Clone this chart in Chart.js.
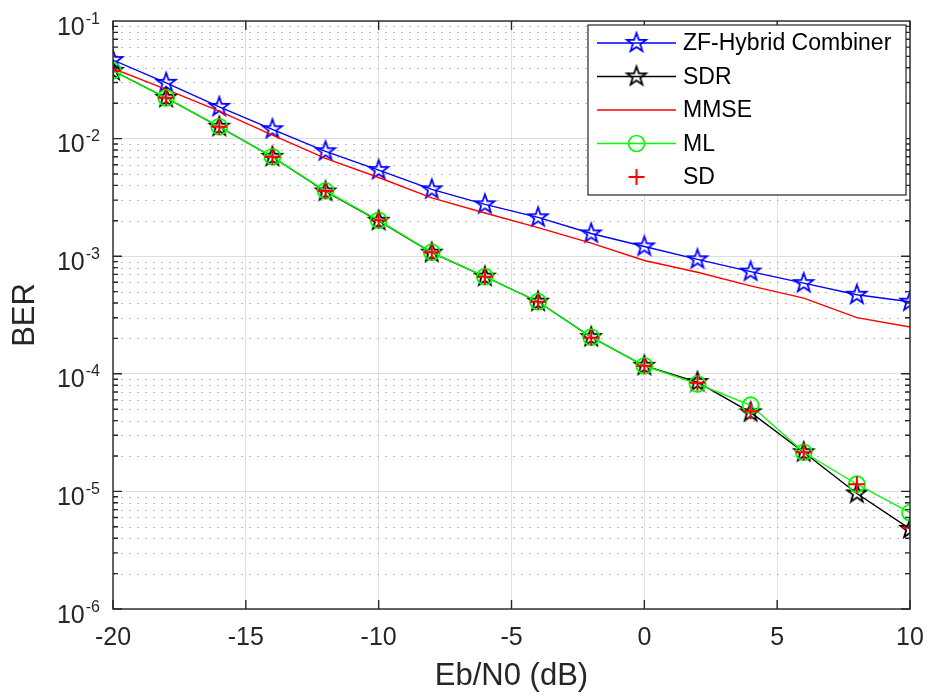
<!DOCTYPE html>
<html>
<head>
<meta charset="utf-8">
<script src="https://cdn.jsdelivr.net/npm/chart.js@4/dist/chart.umd.min.js"></script>
<style>
  html, body { margin: 0; padding: 0; background: #fff; }
  #wrap { width: 930px; height: 696px; }
</style>
</head>
<body>
<div id="wrap"><canvas id="berChart" width="930" height="696"></canvas></div>
<script>
// Eb/N0 points (dB)
const ebn0 = [-20, -18, -16, -14, -12, -10, -8, -6, -4, -2, 0, 2, 4, 6, 8, 10];

// BER curves
const zfBer   = [0.0465, 0.0298, 0.0186, 0.0120, 0.0078, 0.0054, 0.0037, 0.00276, 0.00214, 0.00156, 0.00121, 0.00094, 0.00074, 0.00059, 0.00047, 0.00041];
const sdrBer  = [0.0377, 0.0222, 0.0126, 0.0070, 0.00355, 0.00200, 0.00107, 0.00067, 0.00041, 0.000205, 0.000117, 8.5e-5, 4.7e-5, 2.15e-5, 9.6e-6, 4.8e-6];
const mmseBer = [0.0395, 0.0262, 0.0171, 0.0107, 0.0068, 0.00467, 0.00313, 0.00233, 0.00175, 0.00129, 0.00092, 0.00073, 0.00056, 0.00044, 0.00030, 0.00025];
const mlBer   = [0.0377, 0.0222, 0.0126, 0.0070, 0.00360, 0.00202, 0.00108, 0.00067, 0.00041, 0.000205, 0.000117, 8.2e-5, 5.4e-5, 2.15e-5, 1.15e-5, 6.6e-6];
const sdBer   = [0.0377, 0.0222, 0.0126, 0.0070, 0.00358, 0.00202, 0.00108, 0.00067, 0.00041, 0.000203, 0.000117, 8.4e-5, 4.8e-5, 2.15e-5, 1.15e-5, 4.9e-6];

const seriesNames = ["ZF-Hybrid Combiner", "SDR", "MMSE", "ML", "SD"];
const xTicks = [-20, -15, -10, -5, 0, 5, 10];
const yExponents = [-1, -2, -3, -4, -5, -6];

const FONT = "'Liberation Sans', Arial, sans-serif";
const AXIS_COLOR = "#262626";

function pts(ys) {
  return ebn0.map((x, i) => ({ x: x, y: ys[i] }));
}

// MATLAB style pentagram marker
function makeStar(color, r, lw) {
  const size = Math.ceil(2 * r + lw * 2 + 2);
  const c = document.createElement("canvas");
  c.width = size; c.height = size;
  const g = c.getContext("2d");
  const cx = size / 2, cy = size / 2;
  g.beginPath();
  for (let k = 0; k < 10; k++) {
    const rr = k % 2 === 0 ? r : r * 0.4;
    const a = -Math.PI / 2 + k * Math.PI / 5;
    const px = cx + rr * Math.cos(a), py = cy + rr * Math.sin(a);
    if (k === 0) g.moveTo(px, py); else g.lineTo(px, py);
  }
  g.closePath();
  g.strokeStyle = color;
  g.lineWidth = lw;
  g.lineJoin = "miter";
  g.stroke();
  return c;
}

const blueStar = makeStar("#0000ff", 10, 1.8);
const blackStar = makeStar("#000000", 10, 1.8);

// minor grid + ticks, box, y labels with exponents, legend
const matlabAxes = {
  id: "matlabAxes",
  beforeDatasetsDraw(chart) {
    const { ctx, chartArea: a, scales: { y } } = chart;
    ctx.save();
    ctx.strokeStyle = "#bdbdbd";
    ctx.lineWidth = 1;
    ctx.setLineDash([2, 6]);
    for (let e = -6; e < -1; e++) {
      for (let m = 2; m <= 9; m++) {
        const py = Math.round(y.getPixelForValue(m * Math.pow(10, e))) + 0.5;
        ctx.beginPath();
        ctx.moveTo(a.left, py);
        ctx.lineTo(a.right, py);
        ctx.stroke();
      }
    }
    ctx.restore();
  },
  afterDraw(chart) {
    const { ctx, chartArea: a, scales: { x, y } } = chart;
    ctx.save();
    ctx.strokeStyle = AXIS_COLOR;
    ctx.lineWidth = 1.4;
    ctx.setLineDash([]);
    // ticks pointing inward
    ctx.beginPath();
    for (let e = -6; e < -1; e++) {
      for (let m = 1; m <= 9; m++) {
        const py = y.getPixelForValue(m * Math.pow(10, e));
        const len = m === 1 ? 9 : 5;
        ctx.moveTo(a.left, py); ctx.lineTo(a.left + len, py);
        ctx.moveTo(a.right, py); ctx.lineTo(a.right - len, py);
      }
    }
    xTicks.forEach(v => {
      const px = x.getPixelForValue(v);
      ctx.moveTo(px, a.bottom); ctx.lineTo(px, a.bottom - 9);
      ctx.moveTo(px, a.top); ctx.lineTo(px, a.top + 9);
    });
    ctx.stroke();
    ctx.strokeRect(a.left, a.top, a.right - a.left, a.bottom - a.top);

    // y tick labels 10^n
    ctx.fillStyle = AXIS_COLOR;
    ctx.textBaseline = "alphabetic";
    yExponents.forEach(e => {
      const py = y.getPixelForValue(Math.pow(10, e));
      const sup = String(e);
      ctx.font = "16px " + FONT;
      const supW = ctx.measureText(sup).width;
      const supX = a.left - 13 - supW;
      ctx.textAlign = "left";
      ctx.fillText(sup, supX, py + 2.5);
      ctx.font = "25px " + FONT;
      ctx.textAlign = "right";
      ctx.fillText("10", supX - 1, py + 13.5);
    });

    // legend
    const lx = a.right - 322, ly = a.top + 4, lw = 318, lh = 170;
    ctx.fillStyle = "#fff";
    ctx.fillRect(lx, ly, lw, lh);
    ctx.strokeStyle = AXIS_COLOR;
    ctx.lineWidth = 1.2;
    ctx.strokeRect(lx, ly, lw, lh);
    const rowH = 33.5;
    const styles = [
      { color: "#0000ff", line: true, mark: "blueStar" },
      { color: "#000000", line: true, mark: "blackStar" },
      { color: "#ff0000", line: true, mark: null },
      { color: "#00ff00", line: true, mark: "circle" },
      { color: "#ff0000", line: false, mark: "plus" }
    ];
    ctx.font = "23px " + FONT;
    ctx.textAlign = "left";
    ctx.textBaseline = "middle";
    seriesNames.forEach((name, i) => {
      const cy = ly + 18 + i * rowH;
      const s = styles[i];
      const x0 = lx + 9, x1 = lx + 88, xm = (x0 + x1) / 2;
      ctx.strokeStyle = s.color;
      ctx.lineWidth = 1.3;
      if (s.line) {
        ctx.beginPath(); ctx.moveTo(x0, cy); ctx.lineTo(x1, cy); ctx.stroke();
      }
      if (s.mark === "blueStar") ctx.drawImage(blueStar, xm - blueStar.width / 2, cy - blueStar.height / 2);
      if (s.mark === "blackStar") ctx.drawImage(blackStar, xm - blackStar.width / 2, cy - blackStar.height / 2);
      if (s.mark === "circle") {
        ctx.lineWidth = 1.6;
        ctx.beginPath(); ctx.arc(xm, cy, 8, 0, Math.PI * 2); ctx.stroke();
      }
      if (s.mark === "plus") {
        ctx.lineWidth = 2;
        ctx.beginPath();
        ctx.moveTo(xm - 8, cy); ctx.lineTo(xm + 8, cy);
        ctx.moveTo(xm, cy - 8); ctx.lineTo(xm, cy + 8);
        ctx.stroke();
      }
      ctx.fillStyle = "#000";
      ctx.fillText(name, lx + 95, cy + 1);
    });
    ctx.restore();
  }
};

new Chart(document.getElementById("berChart"), {
  type: "line",
  data: {
    datasets: [
      {
        label: seriesNames[0], data: pts(zfBer), order: 5,
        borderColor: "#0000ff", borderWidth: 1.4,
        pointStyle: blueStar, pointRadius: 9
      },
      {
        label: seriesNames[1], data: pts(sdrBer), order: 4,
        borderColor: "#000000", borderWidth: 1.4,
        pointStyle: blackStar, pointRadius: 9
      },
      {
        label: seriesNames[2], data: pts(mmseBer), order: 3,
        borderColor: "#ff0000", borderWidth: 1.4,
        pointRadius: 0
      },
      {
        label: seriesNames[3], data: pts(mlBer), order: 2,
        borderColor: "#00ff00", borderWidth: 1.4,
        pointStyle: "circle", pointRadius: 8, pointBorderWidth: 1.8,
        pointBorderColor: "#00ff00", pointBackgroundColor: "rgba(0,0,0,0)"
      },
      {
        label: seriesNames[4], data: pts(sdBer), order: 1,
        showLine: false,
        borderColor: "#ff0000",
        pointStyle: "cross", pointRadius: 8, pointBorderWidth: 2,
        pointBorderColor: "#ff0000"
      }
    ]
  },
  options: {
    responsive: false,
    animation: false,
    layout: { padding: { top: 21, right: 20, left: 0, bottom: 0 } },
    plugins: {
      legend: { display: false },
      tooltip: { enabled: false }
    },
    scales: {
      x: {
        type: "linear",
        min: -20, max: 10,
        afterBuildTicks: s => { s.ticks = xTicks.map(v => ({ value: v })); },
        afterFit: s => { s.height = 87; s.paddingLeft = 0; s.paddingRight = 0; },
        grid: { color: "#e2e2e2", lineWidth: 1, drawTicks: false },
        border: { display: false },
        ticks: { font: { size: 25, family: FONT }, color: AXIS_COLOR, padding: 14, maxRotation: 0 },
        title: {
          display: true, text: "Eb/N0 (dB)", color: AXIS_COLOR,
          font: { size: 31, family: FONT }, padding: { top: 0, bottom: 1 }
        }
      },
      y: {
        type: "logarithmic",
        min: 1e-6, max: 1e-1,
        afterBuildTicks: s => { s.ticks = yExponents.map(e => ({ value: Math.pow(10, e) })); },
        afterFit: s => { s.width = 113; s.paddingTop = 0; s.paddingBottom = 0; },
        grid: { color: "#dedede", lineWidth: 1, drawTicks: false },
        border: { display: false },
        ticks: { display: false },
        title: {
          display: true, text: "BER", color: AXIS_COLOR,
          font: { size: 31, family: FONT }, padding: { top: 7, bottom: 0 }
        }
      }
    }
  },
  plugins: [matlabAxes]
});
</script>
</body>
</html>
